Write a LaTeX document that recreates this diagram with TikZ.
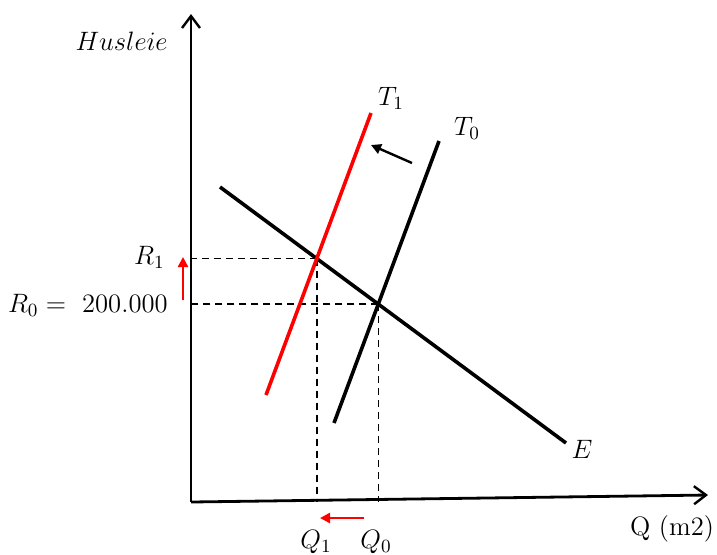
\RequirePackage{fix-cm}
\documentclass[tikz,border=0pt]{standalone}
\usepackage{fontspec}
\usetikzlibrary{arrows.meta}
\begin{document}
\begin{tikzpicture}[x=0.5pt,y=-0.5pt,
  lbl/.style={inner sep=0pt,font=\fontsize{13.3}{16}\selectfont},
  axis/.style={line width=1.4pt,-{Straight Barb[length=6pt,width=9pt,line width=1.2pt]}},
  curve/.style={line width=1.8pt},
  guide/.style={line width=0.8pt,dash pattern=on 3.5pt off 2.5pt},
  movearrow/.style={line width=1.2pt,-{Triangle[length=5pt,width=5pt]}}]
\useasboundingbox (0,0) rectangle (717,554);
% axes
\coordinate (O) at (191,502);
\coordinate (Ytop) at (191,14);
\coordinate (Xend) at (708,495);
\draw[axis] (O) -- (Ytop);
\draw[axis] (O) -- (Xend);
% curves
\coordinate (E1) at (220,187);
\coordinate (E2) at (566,443);
\coordinate (A1) at (371,113);
\coordinate (A2) at (266,395);
\coordinate (B1) at (439,141);
\coordinate (B2) at (334,423);
\coordinate (I1) at (intersection of E1--E2 and A1--A2);
\coordinate (I0) at (intersection of E1--E2 and B1--B2);
% guides
\draw[guide] (I1) -- (I1 -| O);
\draw[guide] (I0) -- (I0 -| O);
\draw[guide] (I1) -- (I1 |- O);
\draw[guide] (I0) -- (I0 |- O);
\draw[curve] (E1) -- (E2);
\draw[curve,red] (A2) -- (A1);
\draw[curve] (B2) -- (B1);
% shift arrows
\coordinate (s1) at (412,163);
\coordinate (s2) at (371,145);
\draw[movearrow] (s1) -- (s2);
\coordinate (r1) at (183,300);
\coordinate (r2) at (183,257);
\draw[movearrow,red] (r1) -- (r2);
\coordinate (q1) at (364,518);
\coordinate (q2) at (320,518);
\draw[movearrow,red] (q1) -- (q2);
% labels
\node[lbl,anchor=east] (hus) at (168,41) {$Husleie$};
\node[lbl,anchor=east] (R1) at (165,257) {$R_1$};
\node[lbl,anchor=east] (R0) at (168,305) {$R_0 =\ 200.000$};
\node[lbl] (T1) at (391,98) {$T_1$};
\node[lbl] (T0) at (467,128) {$T_0$};
\node[lbl] (E) at (582,449) {$E$};
\node[lbl] (Q1) at (316,542) {$Q_1$};
\node[lbl] (Q0) at (376,542) {$Q_0$};
\node[lbl] (Q) at (672,529) {Q (m2)};
\end{tikzpicture}
\end{document}
